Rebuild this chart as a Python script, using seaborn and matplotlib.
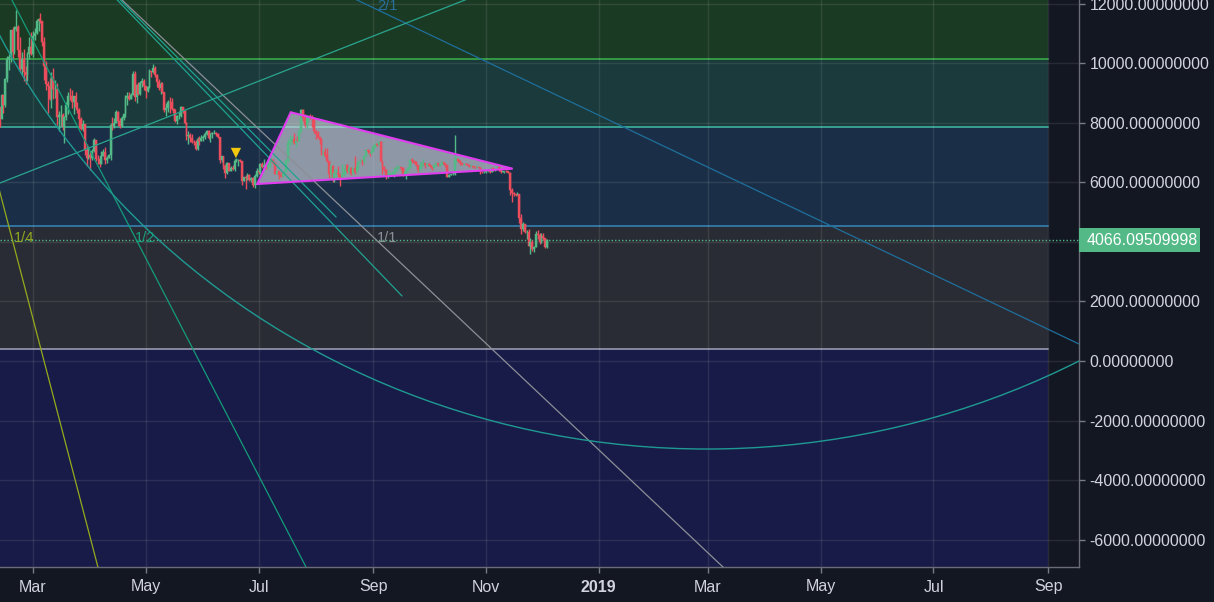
import numpy as np
import pandas as pd
import matplotlib
matplotlib.use("Agg")
import matplotlib.pyplot as plt
import matplotlib.dates as mdates
import matplotlib.transforms as mtransforms
from matplotlib.patches import Ellipse, Polygon, Rectangle
import seaborn as sns

# ---------------- data (daily BTC candles) ----------------
first_day = "2018-02-11"
first_open = 8535

closes = [
    # Feb 11-28
    8130, 8926, 8599, 9494, 10166, 10233, 11112, 10383, 11153, 11225, 10437, 9830, 10150, 9700, 9600, 10320, 10570, 10330,
    # Mar
    10920, 11010, 11430, 11500, 11430, 10720, 9910, 9300, 9230, 8790, 9530, 9140, 9150, 8200, 8270, 8270, 7870, 8200,
    8610, 8920, 8900, 8720, 8900, 8550, 8450, 8140, 7790, 7950, 7090, 6840, 6930,
    # Apr
    6810, 7050, 7420, 6790, 6780, 6620, 6900, 7020, 6770, 6830, 6940, 7920, 7890, 8000, 8360, 8060, 7890, 8160, 8290,
    8850, 8920, 8800, 8940, 9650, 8870, 9280, 8990, 9350, 9400, 9240,
    # May
    9070, 9220, 9740, 9700, 9860, 9620, 9370, 9180, 9320, 9040, 8440, 8500, 8720, 8690, 8480, 8350, 8070, 8250, 8250,
    8530, 8400, 8000, 7550, 7590, 7480, 7360, 7350, 7130, 7470, 7400, 7500,
    # Jun
    7540, 7640, 7720, 7500, 7630, 7650, 7680, 7630, 7530, 6770, 6880, 6550, 6310, 6640, 6400, 6490, 6450, 6710, 6740,
    6760, 6720, 6050, 6170, 6150, 6250, 6090, 6160, 5900, 6220, 6400,
    # Jul
    6360, 6620, 6510, 6600, 6530, 6610, 6760, 6710, 6670, 6300, 6390, 6250, 6220, 6270, 6350, 6740, 7320, 7380, 7470,
    7330, 7410, 7400, 7720, 8420, 8170, 7930, 8180, 8230, 8210, 8180, 7730,
    # Aug
    7620, 7540, 7420, 7010, 7030, 6940, 6720, 6280, 6540, 6150, 6310, 6330, 6270, 6190, 6270, 6310, 6580, 6390, 6490,
    6270, 6480, 6360, 6530, 6690, 6730, 6710, 6900, 7090, 7050, 6980, 7020,
    # Sep
    7190, 7300, 7270, 7370, 6710, 6520, 6410, 6200, 6250, 6290, 6290, 6340, 6490, 6490, 6520, 6500, 6250, 6350, 6390,
    6500, 6760, 6720, 6700, 6590, 6430, 6460, 6640, 6640, 6590, 6630,
    # Oct
    6590, 6520, 6490, 6590, 6640, 6590, 6610, 6690, 6650, 6600, 6200, 6260, 6270, 6280, 6760, 6790, 6720, 6640, 6620,
    6630, 6610, 6580, 6560, 6570, 6530, 6520, 6520, 6500, 6350, 6340, 6360,
    # Nov
    6370, 6390, 6360, 6480, 6420, 6460, 6530, 6420, 6350, 6380, 6390, 6370, 6320, 5740, 5650, 5600, 5580, 5620, 4800,
    4430, 4590, 4320, 4350, 3880, 4010, 3770, 3830, 4270, 4230, 3990,
    # Dec 1-4
    4190, 4140, 3840, 4066,
]

highs = [
    8550, 8985, 8926, 9500, 10240, 10320, 11140, 11240, 11260, 11790, 11300, 10900, 10400, 10500, 9900, 10400, 10880, 11070,
    11090, 11200, 11500, 11530, 11690, 11430, 10880, 10100, 9420, 9500, 9720, 9860, 9460, 9330, 8400, 8600, 8350, 8250,
    8700, 9050, 9180, 9100, 8900, 9030, 8700, 8500, 8200, 8100, 7960, 7300, 7220,
    7050, 7110, 7510, 7430, 6920, 6860, 7070, 7110, 7180, 6880, 6970, 8000, 8200, 8180, 8420, 8400, 8180, 8240, 8300,
    8940, 9030, 9030, 9000, 9750, 9750, 9300, 9380, 9420, 9500, 9470,
    9250, 9250, 9800, 9760, 9970, 9930, 9650, 9470, 9380, 9390, 9040, 8670, 8780, 8880, 8850, 8490, 8470, 8280, 8390,
    8570, 8550, 8420, 8020, 7740, 7660, 7620, 7420, 7440, 7530, 7560, 7600,
    7590, 7690, 7760, 7760, 7660, 7700, 7750, 7690, 7680, 7530, 6900, 6900, 6620, 6690, 6650, 6540, 6580, 6800, 6830,
    6780, 6780, 6720, 6200, 6240, 6330, 6270, 6180, 6170, 6290, 6480,
    6440, 6670, 6680, 6780, 6700, 6640, 6810, 6790, 6800, 6680, 6400, 6400, 6340, 6320, 6400, 6750, 7460, 7580, 7550,
    7680, 7450, 7570, 7800, 8480, 8480, 8300, 8270, 8240, 8290, 8270, 8180,
    7760, 7720, 7540, 7500, 7100, 7150, 7150, 6730, 6620, 6580, 6470, 6470, 6540, 6270, 6620, 6480, 6580, 6620, 6540,
    6530, 6490, 6880, 6540, 6720, 6790, 6780, 6930, 7130, 7140, 7060, 7080,
    7250, 7340, 7330, 7410, 7390, 6720, 6540, 6470, 6420, 6360, 6400, 6340, 6530, 6600, 6570, 6520, 6510, 6370, 6470,
    6530, 6790, 6830, 6770, 6710, 6590, 6560, 6690, 6780, 6650, 6640,
    6660, 6600, 6530, 6610, 6660, 6640, 6630, 6730, 6690, 6650, 6600, 6300, 6290, 6350, 7600, 6850, 6800, 6740, 6670,
    6650, 6660, 6620, 6590, 6620, 6570, 6550, 6540, 6530, 6510, 6370, 6380,
    6380, 6400, 6390, 6500, 6490, 6470, 6560, 6540, 6440, 6400, 6400, 6410, 6380, 6350, 5800, 5680, 5610, 5680, 5620,
    4950, 4660, 4620, 4400, 4450, 4150, 4070, 3850, 4380, 4390, 4310,
    4290, 4310, 4150, 4100,
]

lows = [
    7850, 8130, 8350, 8550, 9370, 9780, 10060, 10170, 10320, 11100, 10230, 9730, 9600, 9400, 9300, 9400, 10150, 10300,
    10230, 10800, 11000, 11100, 11350, 10600, 9460, 9120, 8350, 8770, 8500, 8800, 8850, 7920, 7730, 7900, 7780, 7320,
    8100, 8300, 8780, 8500, 8300, 8500, 8350, 7840, 7760, 7740, 6920, 6560, 6800,
    6430, 6770, 7020, 6720, 6610, 6520, 6610, 6880, 6620, 6660, 6820, 6760, 7750, 7830, 7990, 7900, 7830, 7880, 8100,
    8200, 8600, 8760, 8800, 8940, 8750, 8680, 8930, 8930, 9200, 9100,
    8850, 9050, 9160, 9550, 9690, 9530, 9200, 9110, 8980, 9000, 8360, 8250, 8380, 8350, 8450, 8130, 8040, 7950, 8150,
    8190, 8330, 7970, 7440, 7280, 7360, 7340, 7250, 7100, 7090, 7270, 7380,
    7380, 7460, 7610, 7450, 7370, 7480, 7640, 7560, 7490, 6640, 6700, 6450, 6150, 6300, 6400, 6380, 6430, 6400, 6680,
    6550, 6680, 5930, 6040, 5770, 6100, 6060, 6030, 5840, 5830, 6200,
    6280, 6270, 6480, 6460, 6460, 6450, 6520, 6690, 6620, 6300, 6280, 6130, 6170, 6200, 6250, 6340, 6680, 7250, 7280,
    7300, 7200, 7380, 7380, 7700, 8060, 7860, 7800, 8070, 8120, 7860, 7670,
    7460, 7480, 7290, 6940, 6880, 6850, 6700, 6140, 6200, 6030, 6000, 6200, 6170, 5880, 6180, 6210, 6300, 6330, 6310,
    6260, 6270, 6300, 6350, 6460, 6680, 6600, 6670, 6880, 6990, 6900, 6960,
    7010, 7150, 7220, 7250, 6690, 6290, 6380, 6130, 6150, 6240, 6210, 6190, 6330, 6400, 6480, 6420, 6220, 6240, 6110,
    6370, 6490, 6650, 6670, 6550, 6340, 6400, 6440, 6560, 6480, 6550,
    6540, 6500, 6420, 6480, 6550, 6560, 6550, 6600, 6610, 6520, 6180, 6190, 6240, 6260, 6260, 6700, 6680, 6600, 6590,
    6600, 6590, 6560, 6520, 6540, 6500, 6500, 6500, 6480, 6300, 6320, 6330,
    6330, 6360, 6330, 6340, 6370, 6400, 6450, 6390, 6330, 6340, 6310, 6340, 6310, 5580, 5360, 5530, 5530, 5570, 4650,
    4260, 4380, 4290, 4110, 3850, 3600, 3700, 3680, 3830, 4110, 3920,
    3980, 4080, 3800, 3800,
]

last_price = 4066.09509998
last_price_text = "4066.09509998"

# horizontal zones (price levels) and their colours
zone_edges = [20000, 10141, 7855, 4548, 393, -20000]
zone_fill = ["#1b3a24", "#1a3a3b", "#1a2f47", "#2a2c35", "#181b47"]
zone_lines = [10141, 7855, 4548, 393]
zone_line_colors = ["#35a046", "#3aa897", "#3379a8", "#8e90a8"]
zone_start, zone_end = "2018-01-01", "2019-09-01"

# straight drawings: (start date, start price, end date, end price, colour)
lines = [
    ("2018-01-12 02:00", 12807, "2018-04-09 19:00", -8034, "#94aa1c"),   # 1/4
    ("2018-02-12 00:00", 12807, "2018-08-04 22:00", -8034, "#149c7a"),   # 1/2
    ("2018-04-06 16:00", 12807, "2019-03-28 02:00", -8034, "#8c8f96"),   # 1/1
    ("2018-07-31 12:00", 12807, "2019-09-29 02:00", 235, "#1f6f9c"),     # 2/1
    ("2018-04-05 04:00", 12807, "2018-09-16 14:00", 2185, "#1fa391"),    # trend A
    ("2018-04-06 12:00", 12807, "2018-08-11 22:00", 4840, "#1fa391"),    # trend B
    ("2018-01-31 07:00", 5718, "2018-11-08 14:00", 12598, "#2aa58f"),    # rising line
]
fan_labels = [
    ("2018-02-18 12:00", 4150, "1/4", "#8fa61f"),
    ("2018-04-25 04:00", 4150, "1/2", "#16a07c"),
    ("2018-09-03 00:00", 4150, "1/1", "#8c8f96"),
    ("2018-09-03 00:00", 11916, "2/1", "#2b6e9c"),
]
arc_center = ("2019-02-28 12:00", 22218)
arc_size_days, arc_size_price = 855.6, 50353

triangle = [("2018-06-30 07:00", 5950), ("2018-07-18 10:00", 8360), ("2018-11-15 10:00", 6464)]
marker_point = ("2018-06-18 18:00", 6992)

xtick_dates = ["2018-03-01", "2018-05-01", "2018-07-01", "2018-09-01", "2018-11-01",
               "2019-01-01", "2019-03-01", "2019-05-01", "2019-07-01", "2019-09-01"]
xtick_labels = ["Mar", "May", "Jul", "Sep", "Nov", "2019", "Mar", "May", "Jul", "Sep"]
ytick_values = [-6000, -4000, -2000, 0, 2000, 4000, 6000, 8000, 10000, 12000]

assert len(closes) == len(highs) == len(lows) == 297

# ---------------- styling ----------------
sns.set_theme(style="dark", rc={"axes.facecolor": "#131722", "figure.facecolor": "#131722"})
plt.rcParams["font.family"] = ["Liberation Sans", "DejaVu Sans"]

BG = "#131722"
UP, DOWN = "#53b987", "#eb4d5c"
TXT = "#d1d4dc"

fig = plt.figure(figsize=(12.14, 6.02), dpi=100, facecolor=BG)
ax = fig.add_axes([0, 35 / 602, 1079 / 1214, 567 / 602])
ax.set_facecolor(BG)

# zones
zs, ze = pd.Timestamp(zone_start), pd.Timestamp(zone_end)
for i, col in enumerate(zone_fill):
    ax.fill_between([zs, ze], zone_edges[i + 1], zone_edges[i], color=col, lw=0, zorder=0.2)
for lvl, col in zip(zone_lines, zone_line_colors):
    ax.plot([zs, ze], [lvl, lvl], color=col, lw=1.3, zorder=0.3)

# triangle fill (under candles)
tri_pts = [(mdates.date2num(pd.Timestamp(d)), p) for d, p in triangle]
ax.add_patch(Polygon(tri_pts, closed=True, fc="#d6d8e0", alpha=0.62, ec="none", zorder=2.5))

# candles
dates = pd.date_range(first_day, periods=len(closes), freq="D")
opens = [first_open] + closes[:-1]
o = np.array(opens, float)
c = np.array(closes, float)
cols = [UP if cc >= oo else DOWN for oo, cc in zip(o, c)]
ax.vlines(dates, lows, highs, colors=cols, lw=1.0, zorder=2.9)
ax.bar(dates, c - o, bottom=o, width=1.0, color=cols, lw=0.3, edgecolor=cols, zorder=3)

# price line
ax.axhline(last_price, color=UP, lw=1.0, ls=(0, (1, 1.5)), zorder=2.8)

# drawings through seaborn
for d0, p0, d1, p1, col in lines:
    sns.lineplot(x=pd.to_datetime([d0, d1]), y=[p0, p1], ax=ax, color=col, lw=0.9,
                 estimator=None, sort=False, zorder=4)

ax.add_patch(Ellipse((mdates.date2num(pd.Timestamp(arc_center[0])), arc_center[1]),
                     arc_size_days, arc_size_price, fill=False, ec="#1f9a93", lw=1.0, zorder=4))
ax.add_patch(Polygon(tri_pts, closed=True, fill=False, ec="#e13cf0", lw=1.5, zorder=5))

sns.scatterplot(x=[pd.Timestamp(marker_point[0])], y=[marker_point[1]], ax=ax, marker="v",
                s=55, color="#f2c80f", edgecolor="none", zorder=6)

for d, p, t, col in fan_labels:
    ax.text(pd.Timestamp(d), p, t, color=col, fontsize=10.5, ha="left", va="center", zorder=6)

# axes limits / ticks
ax.set_xlim(pd.Timestamp("2018-02-11 04:00"), pd.Timestamp("2019-09-17 17:00"))
ax.set_ylim(-6924, 12134)
ax.set_xlabel("")
ax.set_ylabel("")

ax.yaxis.tick_right()
ax.set_yticks(ytick_values)
ax.set_yticklabels(["" if v == 4000 else f"{v:.8f}" for v in ytick_values])
ax.set_xticks(pd.to_datetime(xtick_dates))
ax.set_xticklabels(xtick_labels)
for lab in ax.get_xticklabels():
    if lab.get_text() == "2019":
        lab.set_fontweight("bold")
        lab.set_color("#ffffff")

ax.tick_params(axis="y", which="both", length=4, width=1, color="#787b86", labelcolor=TXT,
               labelsize=11.5, pad=3.5, left=False, right=True)
ax.tick_params(axis="x", which="both", length=4, width=1, color="#787b86", labelcolor=TXT,
               labelsize=11.5, pad=5, bottom=True)

ax.grid(True, color="white", alpha=0.09, lw=1)
ax.set_axisbelow(True)

for s in ["top", "left"]:
    ax.spines[s].set_visible(False)
for s in ["right", "bottom"]:
    ax.spines[s].set_visible(True)
    ax.spines[s].set_color("#6a6d78")
    ax.spines[s].set_linewidth(1)

# last price tag on the axis
blend = mtransforms.blended_transform_factory(ax.transAxes, ax.transData)
ax.add_patch(Rectangle((1.0, last_price - 403), 121 / 1079, 807, transform=blend,
                       fc=UP, ec="none", clip_on=False, zorder=10))
ax.text(1.0 + 8 / 1079, last_price, last_price_text, transform=blend, color="white",
        fontsize=11.5, ha="left", va="center", clip_on=False, zorder=11)

fig.savefig("out.png", dpi=100, facecolor=BG)
